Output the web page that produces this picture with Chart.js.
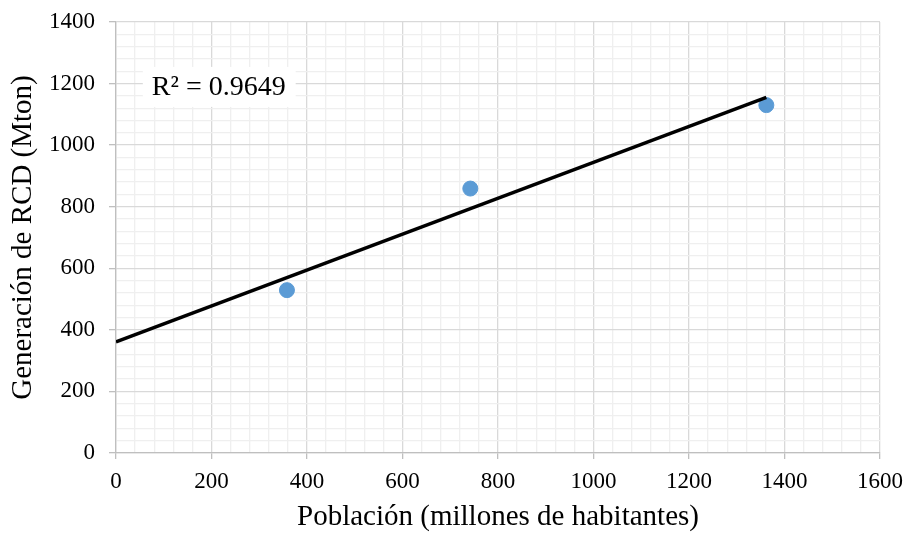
<!DOCTYPE html>
<html>
<head>
<meta charset="utf-8">
<script src="https://cdn.jsdelivr.net/npm/chart.js@4.4.1/dist/chart.umd.min.js"></script>
<style>
  html, body { margin: 0; padding: 0; background: #ffffff; }
  #wrap { width: 906px; height: 533px; }
</style>
</head>
<body>
<div id="wrap"><canvas id="c" width="906" height="533"></canvas></div>
<script>
// Population (millions) vs construction & demolition waste (Mton)
const poblacion = [358, 742, 1362];
const generacionRCD = [529, 859, 1130];
const r2Label = 'R² = 0.9649';
const xTitle = 'Población (millones de habitantes)';
const yTitle = 'Generación de RCD (Mton)';

// Least-squares trend line through the observations
function linearFit(xs, ys) {
  const n = xs.length;
  const mx = xs.reduce((a, b) => a + b, 0) / n;
  const my = ys.reduce((a, b) => a + b, 0) / n;
  let sxy = 0, sxx = 0;
  for (let i = 0; i < n; i++) {
    sxy += (xs[i] - mx) * (ys[i] - my);
    sxx += (xs[i] - mx) * (xs[i] - mx);
  }
  const m = sxy / sxx;
  return { m, b: my - m * mx };
}
const fit = linearFit(poblacion, generacionRCD);
const xEnd = Math.max(...poblacion);
const trend = [{ x: 0, y: fit.b }, { x: xEnd, y: fit.m * xEnd + fit.b }];

const FONT = "'Liberation Serif', 'Times New Roman', serif";
const MAJOR = '#d9d9d9';
const MINOR = '#efefef';

const gridColor = ctx => (ctx.tick && ctx.tick.value % 200 === 0) ? MAJOR : MINOR;
const tickMarkColor = ctx => (ctx.tick && ctx.tick.value % 200 === 0) ? '#bfbfbf' : 'rgba(0,0,0,0)';
const majorLabel = v => (v % 200 === 0) ? String(v) : '';

// Boxed R² annotation anchored in data coordinates
const r2Plugin = {
  id: 'r2',
  afterDatasetsDraw(chart) {
    const { ctx, scales } = chart;
    const px = scales.x.getPixelForValue(75);
    const py = scales.y.getPixelForValue(1186);
    ctx.save();
    ctx.font = '28px ' + FONT;
    const w = ctx.measureText(r2Label).width;
    ctx.fillStyle = '#ffffff';
    ctx.fillRect(px - 9, py - 21, w + 19, 40);
    ctx.fillStyle = '#000000';
    ctx.textBaseline = 'middle';
    ctx.textAlign = 'left';
    ctx.fillText(r2Label, px, py);
    ctx.restore();
  }
};

new Chart(document.getElementById('c'), {
  type: 'scatter',
  data: {
    datasets: [
      {
        label: 'RCD',
        data: poblacion.map((x, i) => ({ x, y: generacionRCD[i] })),
        backgroundColor: '#5b9bd5',
        borderColor: '#5b9bd5',
        pointRadius: 7.5,
        pointHoverRadius: 7.5,
        order: 1
      },
      {
        label: 'Lineal',
        type: 'line',
        data: trend,
        borderColor: '#000000',
        borderWidth: 3.5,
        pointRadius: 0,
        fill: false,
        order: 0
      }
    ]
  },
  options: {
    responsive: false,
    animation: false,
    layout: { padding: { top: 22, right: 26, left: 0, bottom: 0 } },
    plugins: { legend: { display: false }, tooltip: { enabled: false } },
    scales: {
      x: {
        type: 'linear',
        min: 0, max: 1600,
        afterFit: s => { s.height = 80; s.paddingLeft = 0; s.paddingRight = 0; },
        ticks: {
          stepSize: 40, autoSkip: false, maxRotation: 0,
          color: '#000', font: { family: FONT, size: 23 },
          padding: 9,
          callback: majorLabel
        },
        grid: { color: gridColor, tickColor: tickMarkColor, tickLength: 6, lineWidth: 1.3 },
        border: { color: '#bfbfbf', width: 1.3 },
        title: {
          display: true, text: xTitle, color: '#000',
          font: { family: FONT, size: 29, lineHeight: 1.1 }, padding: { top: 0, bottom: 0 }
        }
      },
      y: {
        type: 'linear',
        min: 0, max: 1400,
        afterFit: s => { s.width = 116; s.paddingTop = 0; s.paddingBottom = 0; },
        ticks: {
          stepSize: 40, autoSkip: false,
          color: '#000', font: { family: FONT, size: 23 },
          padding: 14,
          callback: majorLabel
        },
        grid: { color: gridColor, tickColor: tickMarkColor, tickLength: 7, lineWidth: 1.3 },
        border: { color: '#bfbfbf', width: 1.3 },
        title: {
          display: true, text: yTitle, color: '#000',
          font: { family: FONT, size: 29, lineHeight: 1.1 }, padding: { top: 7, bottom: 0 }
        }
      }
    }
  },
  plugins: [r2Plugin]
});
</script>
</body>
</html>
